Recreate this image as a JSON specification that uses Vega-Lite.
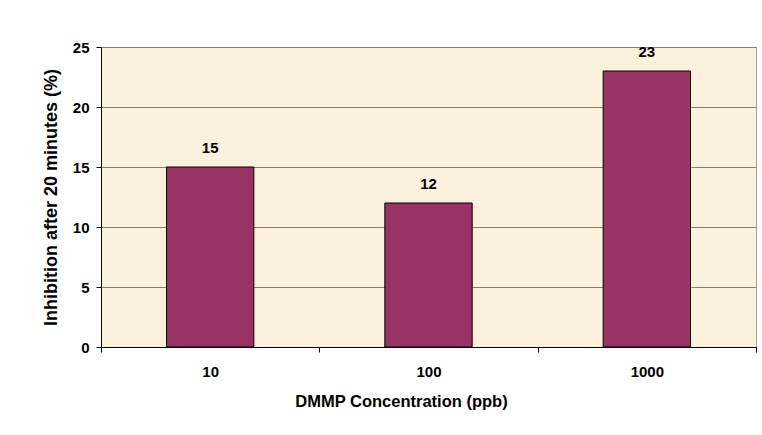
{
  "$schema": "https://vega.github.io/schema/vega-lite/v6.json",
  "width": 655,
  "height": 300,
  "autosize": {"type": "none"},
  "padding": {"left": 101, "top": 47, "right": 6, "bottom": 88},
  "background": "white",
  "config": {
    "view": {"fill": "#FCF1DC", "stroke": "#A0A0A0", "strokeWidth": 1},
    "font": "Liberation Sans"
  },
  "data": {
    "values": [
      {"concentration": "10", "inhibition": 15},
      {"concentration": "100", "inhibition": 12},
      {"concentration": "1000", "inhibition": 23}
    ]
  },
  "encoding": {
    "x": {
      "field": "concentration",
      "type": "nominal",
      "sort": null,
      "scale": {"paddingInner": 0, "paddingOuter": 0},
      "axis": {
        "title": "DMMP Concentration (ppb)",
        "titleFont": "Liberation Sans",
        "titleFontSize": 16.5,
        "titleFontWeight": "bold",
        "titleColor": "black",
        "titlePadding": 14,
        "titleX": 300,
        "labelAngle": 0,
        "labelFont": "Liberation Sans",
        "labelFontSize": 15,
        "labelFontWeight": "bold",
        "labelColor": "black",
        "labelPadding": 12,
        "tickBand": "extent",
        "tickSize": 5,
        "tickColor": "black",
        "domainColor": "black",
        "grid": false
      }
    },
    "y": {
      "field": "inhibition",
      "type": "quantitative",
      "scale": {"domain": [0, 25], "nice": false},
      "axis": {
        "title": "Inhibition after 20 minutes (%)",
        "titleFont": "Liberation Sans",
        "titleFontSize": 18,
        "titleFontWeight": "bold",
        "titleColor": "black",
        "titlePadding": 12,
        "values": [0, 5, 10, 15, 20, 25],
        "labelFont": "Liberation Sans",
        "labelFontSize": 15,
        "labelFontWeight": "bold",
        "labelColor": "black",
        "labelPadding": 7,
        "tickSize": 5,
        "tickColor": "black",
        "domainColor": "black",
        "grid": true,
        "gridColor": "#808080",
        "gridWidth": 1
      }
    }
  },
  "layer": [
    {
      "mark": {"type": "bar", "width": {"band": 0.4}, "fill": "#993366", "stroke": "black", "strokeWidth": 1}
    },
    {
      "mark": {"type": "text", "dy": -19, "baseline": "middle", "font": "Liberation Sans", "fontSize": 15, "fontWeight": "bold", "color": "black"},
      "encoding": {"text": {"field": "inhibition", "type": "quantitative"}}
    }
  ]
}
